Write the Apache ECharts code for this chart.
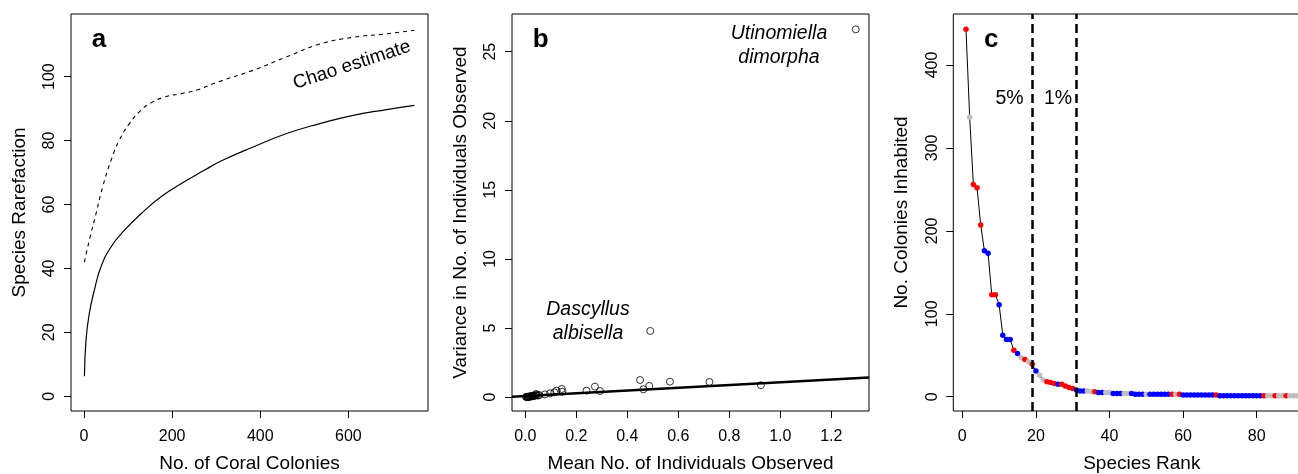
<!DOCTYPE html>
<html>
<head>
<meta charset="utf-8">
<script src="https://cdn.jsdelivr.net/npm/echarts@6/dist/echarts.min.js"></script>
<style>
  html, body { margin: 0; padding: 0; background: #fff; }
  #chart { width: 1298px; height: 474px; }
</style>
</head>
<body>
<div id="chart"></div>
<script>
// ---- Panel a: species rarefaction and Chao estimate vs. number of colonies ----
const rarefaction = [
  [1, 6.3], [4.5, 17.5], [12, 25.9], [23.5, 33.2], [38.6, 40.5], [61.3, 46.7],
  [91.5, 51.9], [129.4, 57.1], [174.8, 62.4], [227.7, 67.1], [273, 70.7],
  [311, 73.6], [384, 78.0], [460, 82.2], [535.6, 85.3], [611, 87.9],
  [687, 89.7], [750, 91.0]
];
const chaoEstimate = [
  [1, 42.0], [12, 48.8], [27.2, 57.1], [42.4, 65.5], [61.3, 73.8], [80.2, 80.1],
  [103, 85.3], [129.4, 89.5], [152, 91.8], [182.3, 93.6], [220, 94.7],
  [258, 95.9], [303.4, 98.3], [384, 102.0], [460, 106.2], [535.6, 110.2],
  [611, 112.3], [687, 113.4], [750, 114.5]
];
const aTicksX = [0, 200, 400, 600];
const aTicksY = [0, 20, 40, 60, 80, 100];

// ---- Panel b: variance vs. mean number of individuals per species ----
const bMean = [
  0.003, 0.005, 0.007, 0.008, 0.010, 0.012, 0.014, 0.016, 0.018, 0.020, 0.022,
  0.025, 0.027, 0.030, 0.033, 0.036, 0.040, 0.042, 0.045, 0.050, 0.055,
  0.077, 0.097, 0.114, 0.123, 0.143, 0.145, 0.240, 0.273, 0.293,
  0.450, 0.463, 0.486, 0.490, 0.567, 0.722, 0.924, 1.296
];
const bVariance = [
  0.003, 0.005, 0.008, 0.012, 0.010, 0.020, 0.015, 0.030, 0.025, 0.050, 0.040,
  0.060, 0.080, 0.050, 0.100, 0.080, 0.120, 0.220, 0.150, 0.100, 0.140,
  0.19, 0.26, 0.34, 0.46, 0.58, 0.38, 0.46, 0.75, 0.43,
  1.23, 0.56, 0.80, 4.78, 1.11, 1.09, 0.85, 26.62
];
const fitIntercept = 0.07;
const fitSlope = 0.99;
const bTicksX = [0, 0.2, 0.4, 0.6, 0.8, 1.0, 1.2];
const bTicksY = [0, 5, 10, 15, 20, 25];

// ---- Panel c: rank-abundance of species (colonies inhabited) ----
const colonyCounts = [
  443, 337, 256, 252, 207, 176, 173, 123, 123, 111,
  74, 69, 69, 56, 52, 47, 45, 42, 39, 31,
  26, 20, 18, 17, 16, 15, 15, 13, 11, 10,
  8, 7, 7, 7, 6, 6, 5, 5, 5, 5,
  4, 4, 4, 4, 4, 4, 3, 3, 3, 3,
  3, 3, 3, 3, 3, 3, 3, 3, 3, 2,
  2, 2, 2, 2, 2, 2, 2, 2, 2, 1,
  1, 1, 1, 1, 1, 1, 1, 1, 1, 1,
  1, 1, 1, 1, 1, 1, 1, 1, 1, 1,
  1, 1
];
// r = red, b = blue, g = grey
const colonyClass = [
  'r','g','r','r','r','b','b','r','r','b',
  'b','b','b','r','b','g','r','g','r','b',
  'g','g','r','r','r','b','r','r','r','r',
  'b','b','b','g','g','r','b','b','g','g',
  'b','b','b','g','g','b','b','b','b','g',
  'b','b','b','b','b','b','r','g','r','b',
  'b','b','b','b','b','b','b','b','r','b',
  'b','b','b','b','b','b','b','b','b','b',
  'b','r','g','g','r','g','g','r','g','g',
  'g','g'
];
const cutoffRanks = [19, 31];
const cutoffLabels = ['5%', '1%'];
const cTicksX = [0, 20, 40, 60, 80, 100];
const cTicksY = [0, 100, 200, 300, 400];

const classColor = { r: '#FF0000', b: '#0000FF', g: '#BEBEBE' };
const FONT = '"Liberation Sans", Arial, Helvetica, sans-serif';

function makeX(gridIndex, min, max, ticks, name, fmt) {
  return {
    type: 'value', gridIndex, min, max, name,
    nameLocation: 'middle', nameGap: 43,
    nameTextStyle: { fontSize: 19, fontFamily: FONT, color: '#000' },
    axisLine: { show: false, onZero: false },
    splitLine: { show: false },
    axisTick: { show: true, inside: false, length: 7, customValues: ticks,
                lineStyle: { color: '#000', width: 1 } },
    axisLabel: { show: true, customValues: ticks, margin: 18, fontSize: 16,
                 fontFamily: FONT, color: '#000', formatter: fmt }
  };
}
function makeY(gridIndex, min, max, ticks, name) {
  return {
    type: 'value', gridIndex, min, max, name,
    nameLocation: 'middle', nameGap: 42, nameRotate: 90,
    nameTextStyle: { fontSize: 19, fontFamily: FONT, color: '#000' },
    axisLine: { show: false, onZero: false },
    splitLine: { show: false },
    axisTick: { show: true, inside: false, length: 7, customValues: ticks,
                lineStyle: { color: '#000', width: 1 } },
    axisLabel: { show: true, customValues: ticks, margin: 13, rotate: 90,
                 fontSize: 16, fontFamily: FONT, color: '#000' }
  };
}

const gridBase = { show: true, borderColor: '#000', borderWidth: 1,
                   backgroundColor: 'transparent', containLabel: false,
                   outerBoundsMode: 'none' };

const bXMin = -0.0522, bXMax = 1.3478;
const fitLine = [bXMin, bXMax].map(x => [x, fitIntercept + fitSlope * x]);

const option = {
  animation: false,
  backgroundColor: '#fff',
  textStyle: { fontFamily: FONT },
  grid: [
    Object.assign({ left: 71, top: 14, width: 357, height: 397 }, gridBase),
    Object.assign({ left: 512, top: 14, width: 357, height: 397 }, gridBase),
    Object.assign({ left: 953.3, top: 14, width: 377, height: 397 }, gridBase)
  ],
  xAxis: [
    makeX(0, -29.5, 780.8, aTicksX, 'No. of Coral Colonies'),
    makeX(1, bXMin, bXMax, bTicksX, 'Mean No. of Individuals Observed', v => v.toFixed(1)),
    makeX(2, -2.45, 100, cTicksX, 'Species Rank')
  ],
  yAxis: [
    makeY(0, -4.6, 119.6, aTicksY, 'Species Rarefaction'),
    makeY(1, -1.014, 27.73, bTicksY, 'Variance in No. of Individuals Observed'),
    makeY(2, -17.24, 461.5, cTicksY, 'No. Colonies Inhabited')
  ],
  series: [
    {
      type: 'line', xAxisIndex: 0, yAxisIndex: 0, data: rarefaction,
      showSymbol: false, smooth: 0.5,
      lineStyle: { color: '#000', width: 1.2 }
    },
    {
      type: 'line', xAxisIndex: 0, yAxisIndex: 0, data: chaoEstimate,
      showSymbol: false, smooth: 0.5,
      lineStyle: { color: '#000', width: 1.1, type: [4, 4] }
    },
    {
      type: 'scatter', xAxisIndex: 1, yAxisIndex: 1,
      data: bMean.map((m, i) => [m, bVariance[i]]),
      symbol: 'circle', symbolSize: 7,
      itemStyle: { color: 'rgba(0,0,0,0)', borderColor: '#000', borderWidth: 1 }
    },
    {
      type: 'line', xAxisIndex: 1, yAxisIndex: 1, data: fitLine,
      showSymbol: false, lineStyle: { color: '#000', width: 2.5 }, z: 3
    },
    {
      type: 'line', xAxisIndex: 2, yAxisIndex: 2,
      data: colonyCounts.map((v, i) => ({
        value: [i + 1, v],
        itemStyle: { color: classColor[colonyClass[i]] }
      })),
      symbol: 'circle', symbolSize: 5.5, showSymbol: true, showAllSymbol: true,
      lineStyle: { color: '#000', width: 1 },
      markLine: {
        silent: true, symbol: ['none', 'none'], label: { show: false },
        lineStyle: { color: '#000', width: 2.5, type: [9, 5] },
        data: cutoffRanks.map(r => ({ xAxis: r }))
      },
      z: 2
    }
  ],
  graphic: [
    { type: 'text', x: 91.7, y: 39.5,
      style: { text: 'a', font: 'bold 26px ' + FONT, fill: '#000', textVerticalAlign: 'middle', verticalAlign: 'middle' } },
    { type: 'text', x: 532.7, y: 39.5,
      style: { text: 'b', font: 'bold 26px ' + FONT, fill: '#000', textVerticalAlign: 'middle', verticalAlign: 'middle' } },
    { type: 'text', x: 984, y: 39.5,
      style: { text: 'c', font: 'bold 26px ' + FONT, fill: '#000', textVerticalAlign: 'middle', verticalAlign: 'middle' } },
    { type: 'text', x: 352, y: 65, rotation: 18 * Math.PI / 180,
      style: { text: 'Chao estimate', font: '19px ' + FONT, fill: '#000',
               textAlign: 'center', align: 'center', textVerticalAlign: 'middle', verticalAlign: 'middle' } },
    { type: 'text', x: 779, y: 45.3,
      style: { text: 'Utinomiella\ndimorpha', font: 'italic 19.5px ' + FONT, fill: '#000', lineHeight: 24,
               textAlign: 'center', align: 'center', textVerticalAlign: 'middle', verticalAlign: 'middle' } },
    { type: 'text', x: 588, y: 321.7,
      style: { text: 'Dascyllus\nalbisella', font: 'italic 19.5px ' + FONT, fill: '#000', lineHeight: 23.5,
               textAlign: 'center', align: 'center', textVerticalAlign: 'middle', verticalAlign: 'middle' } },
    { type: 'text', x: 1009.5, y: 98.8,
      style: { text: cutoffLabels[0], font: '19.5px ' + FONT, fill: '#000',
               textAlign: 'center', align: 'center', textVerticalAlign: 'middle', verticalAlign: 'middle' } },
    { type: 'text', x: 1058, y: 98.8,
      style: { text: cutoffLabels[1], font: '19.5px ' + FONT, fill: '#000',
               textAlign: 'center', align: 'center', textVerticalAlign: 'middle', verticalAlign: 'middle' } }
  ]
};

const chart = echarts.init(document.getElementById('chart'), null, { renderer: 'canvas' });
chart.setOption(option);
</script>
</body>
</html>
